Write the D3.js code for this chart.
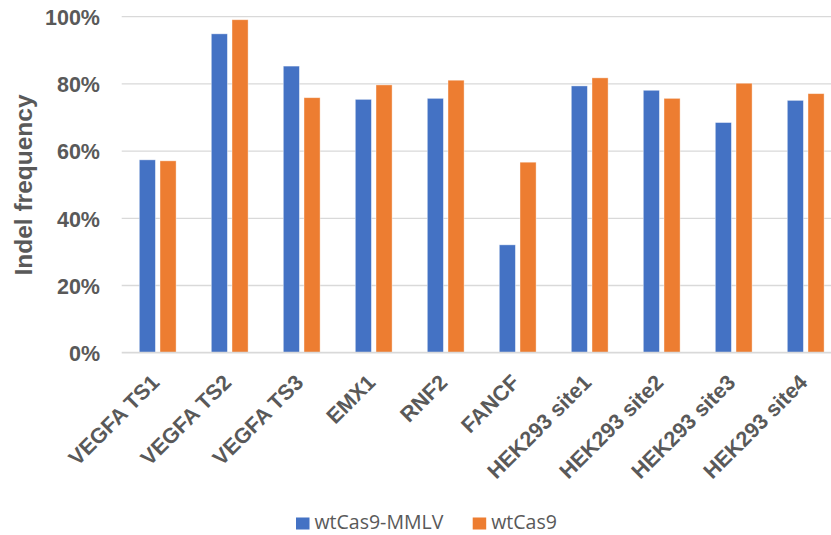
<!DOCTYPE html>
<html>
<head>
<meta charset="utf-8">
<script src="https://cdn.jsdelivr.net/npm/d3@7"></script>
<style>
  html, body { margin: 0; padding: 0; background: #ffffff; }
  svg { display: block; }
</style>
</head>
<body>
<svg id="chart" width="831" height="535"></svg>
<script>
// Indel frequency per target site, two Cas9 constructs
const categories = ["VEGFA TS1", "VEGFA TS2", "VEGFA TS3", "EMX1", "RNF2", "FANCF",
  "HEK293 site1", "HEK293 site2", "HEK293 site3", "HEK293 site4"];
const seriesNames = ["wtCas9-MMLV", "wtCas9"];
const mmlvValues = [57.4, 94.9, 85.3, 75.4, 75.7, 32.1, 79.4, 78.1, 68.5, 75.1];
const cas9Values = [57.1, 99.1, 75.9, 79.7, 81.1, 56.7, 81.8, 75.7, 80.2, 77.1];
const yTicks = [0, 20, 40, 60, 80, 100];
const colors = ["#4472C4", "#ED7D31"];

const svg = d3.select("#chart");
const W = 831;
const plotLeft = 121.7, plotTop = 16.7, plotBottom = 352.7;
const step = 72;

const x0 = d3.scaleBand()
  .domain(categories)
  .range([plotLeft, plotLeft + step * categories.length])
  .padding(0);

const x1 = d3.scaleBand()
  .domain(seriesNames)
  .range([17.6, 54.4])
  .paddingInner(0.222)
  .paddingOuter(0);

const y = d3.scaleLinear().domain([0, 100]).range([plotBottom, plotTop]);

// horizontal gridlines
svg.append("g")
  .selectAll("line")
  .data(yTicks.filter(d => d > 0))
  .join("line")
  .attr("x1", plotLeft)
  .attr("x2", W)
  .attr("y1", d => y(d))
  .attr("y2", d => y(d))
  .attr("stroke", "#d9d9d9")
  .attr("stroke-width", 1.3);

// y tick labels
const yAxis = d3.axisLeft(y).tickValues(yTicks).tickFormat(d => d + "%").tickSize(0).tickPadding(0);
const gy = svg.append("g").attr("transform", `translate(100,0)`).call(yAxis);
gy.select(".domain").remove();
gy.selectAll("text")
  .attr("fill", "#595959")
  .attr("font-family", "'Liberation Sans', Arial, sans-serif")
  .attr("font-weight", "bold")
  .attr("font-size", "21.5px")
  .attr("dy", "0.36em");

// bars
const rows = categories.map((c, i) => ({ cat: c, vals: [mmlvValues[i], cas9Values[i]] }));
const groups = svg.append("g")
  .selectAll("g")
  .data(rows)
  .join("g")
  .attr("transform", d => `translate(${x0(d.cat)},0)`);

groups.selectAll("rect")
  .data(d => d.vals.map((v, j) => ({ name: seriesNames[j], value: v, j })))
  .join("rect")
  .attr("x", d => x1(d.name))
  .attr("width", x1.bandwidth())
  .attr("y", d => y(d.value))
  .attr("height", d => y(0) - y(d.value))
  .attr("fill", d => colors[d.j])
  .attr("stroke", "#ffffff")
  .attr("stroke-opacity", 0.5)
  .attr("stroke-width", 0.8);

// baseline axis
svg.append("line")
  .attr("x1", plotLeft)
  .attr("x2", W)
  .attr("y1", y(0))
  .attr("y2", y(0))
  .attr("stroke", "#d9d9d9")
  .attr("stroke-width", 1.8);

// x category labels, rotated
const xAxis = d3.axisBottom(x0).tickSize(0).tickPadding(0);
const gx = svg.append("g").attr("transform", `translate(0,${plotBottom})`).call(xAxis);
gx.select(".domain").remove();
gx.selectAll(".tick text")
  .attr("fill", "#595959")
  .attr("font-family", "'Liberation Sans', Arial, sans-serif")
  .attr("font-weight", "bold")
  .attr("font-size", "21.5px")
  .attr("text-anchor", "end")
  .attr("y", 0)
  .attr("dy", "0.36em")
  .attr("transform", "translate(-2.5,25.5) rotate(-45)");

// y axis title
svg.append("text")
  .attr("transform", "translate(32,185) rotate(-90)")
  .attr("text-anchor", "middle")
  .attr("fill", "#595959")
  .attr("font-family", "'Liberation Sans', Arial, sans-serif")
  .attr("font-weight", "bold")
  .attr("font-size", "24.5px")
  .text("Indel frequency");

// legend
const legendItems = [
  { name: seriesNames[0], color: colors[0], x: 296 },
  { name: seriesNames[1], color: colors[1], x: 472.7 }
];
const lg = svg.append("g").selectAll("g").data(legendItems).join("g")
  .attr("transform", d => `translate(${d.x},0)`);
lg.append("rect")
  .attr("x", 0).attr("y", 517.5)
  .attr("width", 13.5).attr("height", 12)
  .attr("fill", d => d.color);
lg.append("text")
  .attr("x", 18.5).attr("y", 529)
  .attr("fill", "#595959")
  .attr("font-family", "'Open Sans', 'Noto Sans', sans-serif")
  .attr("font-size", "19.5px")
  .text(d => d.name);
</script>
</body>
</html>
